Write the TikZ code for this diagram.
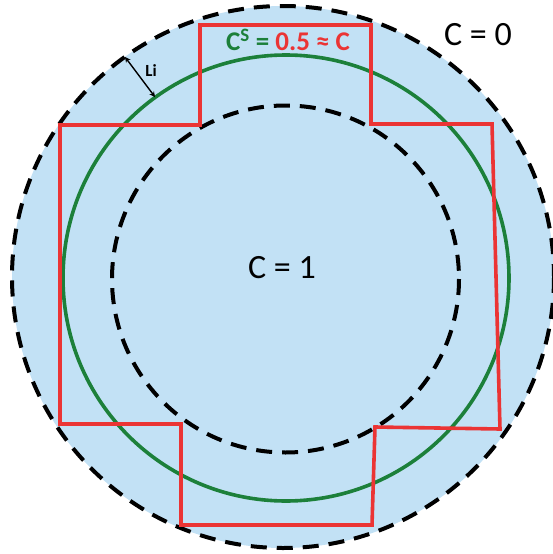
\documentclass[tikz,border=0pt]{standalone}
\usepackage{fontspec}
\setmainfont{Carlito}
\usetikzlibrary{positioning}
\definecolor{skyfill}{RGB}{194,225,245}
\definecolor{boxred}{RGB}{235,52,52}
\definecolor{ringgreen}{RGB}{28,128,58}

\begin{document}
\begin{tikzpicture}[x=1pt, y=-1pt,
    ring/.style={line width=4pt, dash pattern=on 16pt off 10pt},
    level/.style={draw=ringgreen, line width=3.6pt},
    cell/.style={draw=boxred, line width=3.6pt, line join=miter},
    label/.style={font=\fontsize{34}{38}\selectfont, inner sep=0pt},
    directed/.style={<->, >=stealth, line width=1.4pt}
]
\useasboundingbox (0,0) rectangle (553,554);

% Outer region (C = 0 boundary)
\fill[skyfill] (283,277) circle (271);
\draw[ring] (283,277) circle (271);

% Inner boundary (C = 1)
\draw[ring] (285.5,279) circle (173.5);

% Green level set
\draw[level] (286,278) circle (223);

% Red cells
\draw[cell] (200,25) -- (371,25) -- (371,124) -- (492,124) -- (500,429)
    -- (375,427) -- (372,525) -- (181,525) -- (181,424) -- (60,424)
    -- (60,125) -- (200,125) -- cycle;

% Interface width
\coordinate (li1) at (125,57);
\coordinate (li2) at (155,97);
\draw[directed] (li1) -- (li2);
\node[font=\bfseries\fontsize{17}{19}\selectfont, inner sep=0pt] (li) at (151,71) {Li};

% Labels
\node[label] (czero) at (478,35) {C = 0};
\node[label] (cone) at (282,268) {C = 1};
\node[font=\bfseries\fontsize{27}{30}\selectfont, inner sep=0pt] (cs) at (288,40)
    {\textcolor{ringgreen}{C\textsuperscript{S} =} \textcolor{boxred}{0.5 ≈ C}};

\end{tikzpicture}
\end{document}
